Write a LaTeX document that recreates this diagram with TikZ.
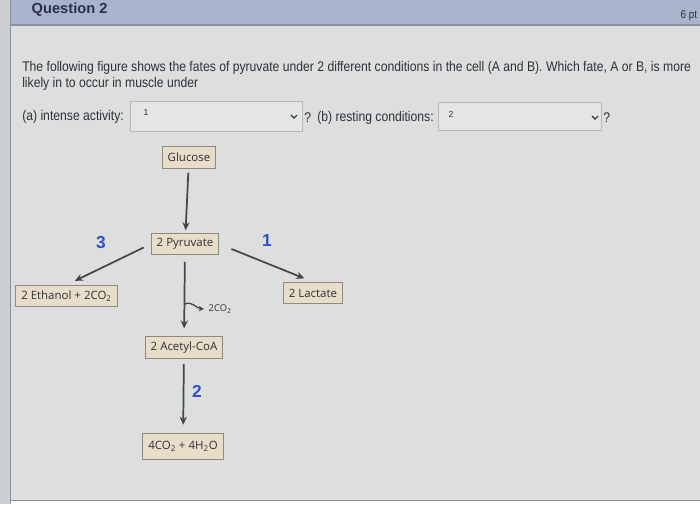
\documentclass[tikz,border=0pt]{standalone}
\usepackage{xcolor}
\usepackage{fontspec}
\setmainfont{Liberation Sans}
\newfontfamily\uifont[FakeStretch=0.87]{Liberation Sans}
\newfontfamily\boxfont{Open Sans}
\usetikzlibrary{arrows.meta}

\definecolor{page}{HTML}{DCDFDE}
\definecolor{strip}{HTML}{CDD0D0}
\definecolor{hdr}{HTML}{A9B3CC}
\definecolor{hdrline}{HTML}{8A90A0}
\definecolor{ink}{HTML}{2E3038}
\definecolor{navy}{HTML}{2A2F4A}
\definecolor{boxfill}{HTML}{E8DDC8}
\definecolor{boxline}{HTML}{8E8A82}
\definecolor{numblue}{HTML}{3050C8}
\definecolor{arrgrey}{HTML}{45464B}
\definecolor{fieldfill}{HTML}{E3E6E5}
\definecolor{fieldline}{HTML}{B5B9BA}

\tikzset{
  box/.style={draw=boxline, fill=boxfill, text=ink, line width=0.7pt,
    font=\boxfont\fontsize{8.6}{10}\selectfont, minimum height=16pt, inner xsep=4pt},
  num/.style={text=numblue, font=\bfseries\fontsize{13}{15}\selectfont},
  arr/.style={draw=arrgrey, line width=1.3pt, -{Stealth[length=6pt,width=5.5pt]}},
  ui/.style={text=ink, font=\uifont\fontsize{10.5}{12}\selectfont, anchor=west, inner sep=0pt},
  field/.style={draw=fieldline, fill=fieldfill, line width=0.6pt}
}

\begin{document}
\begin{tikzpicture}[x=0.75pt, y=-0.75pt]
\useasboundingbox (0,0) rectangle (700,504);
% page
\fill[strip] (0,0) rectangle (10,504);
\fill[page] (10,25) rectangle (700,500);
\fill[hdr] (10,0) rectangle (700,25);
\draw[hdrline, line width=0.8pt] (10,25) -- (700,25);
\draw[hdrline, line width=0.6pt] (10,0) -- (10,504);
\draw[hdrline, line width=0.6pt] (10,500) -- (700,500);
\draw[ink, line width=0.6pt] (0,-1) arc[start angle=90, end angle=-90, radius=5];

% header and question
\node[text=navy, font=\bfseries\fontsize{11}{13}\selectfont, anchor=west] at (27,10) (ttl) {Question 2};
\node[text=ink, font=\uifont\fontsize{8.5}{10}\selectfont, anchor=west] at (676,16) (pts) {6 pt};
\node[ui] at (22,68) (qa) {The following figure shows the fates of pyruvate under 2 different conditions in the cell (A and B). Which fate, A or B, is more};
\node[ui] at (22,84) (qb) {likely in to occur in muscle under};

% answer fields
\node[ui] at (22,117) (la) {(a) intense activity:};
\draw[field] (130,101) rectangle (302,131);
\node[text=ink, font=\fontsize{6.5}{7}\selectfont] at (146,113) (va) {1};
\draw[ink, line width=0.8pt] (291,115) -- (294,118) -- (297,115);
\node[ui] at (304,118) (qma) {?};
\node[ui] at (317,118) (lb) {(b) resting conditions:};
\draw[field] (438,102) rectangle (601,130);
\node[text=ink, font=\fontsize{6.5}{7}\selectfont] at (451,114) (vb) {2};
\draw[ink, line width=0.8pt] (592,116) -- (595,119) -- (598,116);
\node[ui] at (603,118) (qmb) {?};

% pathway
\draw
node[box] at (189,157.5) (glu) {Glucose}
node[box] at (185,244) (pyr) {2 Pyruvate}
node[box] at (66.5,296) (eth) {2 Ethanol + 2CO\textsubscript{2}}
node[box] at (313,293) (lac) {2 Lactate}
node[box] at (184,347.5) (ace) {2 Acetyl-CoA}
node[box, minimum height=20pt] at (183,446.5) (fin) {4CO\textsubscript{2} + 4H\textsubscript{2}O}
node[num] at (101,243) (n3) {3}
node[num] at (267,241) (n1) {1}
node[num] at (197,391) (n2) {2}
node[text=ink, font=\boxfont\fontsize{7}{8}\selectfont, anchor=west] at (204,309) (co2) {2CO\textsubscript{2}};
\coordinate (br) at (185,304);

\draw[arr, shorten <=3pt, shorten >=2pt] (glu) -- (pyr);
\draw[arr, shorten <=6pt, shorten >=7pt] (pyr.west) -- (eth.north);
\draw[arr, shorten <=10pt, shorten >=7pt] (pyr.east) -- (lac.north);
\draw[arr, shorten <=5pt, shorten >=6pt] (pyr) -- (ace);
\draw[arr, line width=1pt, -{Stealth[length=4pt,width=4pt]}] (br) to[out=25, in=175] (co2.west);
\draw[arr, shorten <=4pt, shorten >=6pt] (ace) -- (fin);
\end{tikzpicture}
\end{document}
